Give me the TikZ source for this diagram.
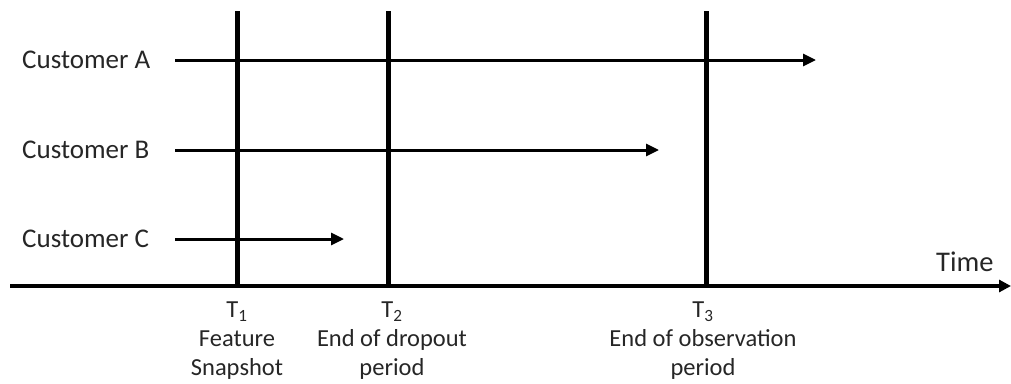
\documentclass[tikz,border=0pt]{standalone}
\usepackage{fontspec}
\setmainfont{Carlito}
\usetikzlibrary{arrows.meta}
\begin{document}
\begin{tikzpicture}[x=1pt,y=-1pt,
  lbl/.style={font=\fontsize{27}{30}\selectfont, text=black!85, inner sep=0pt},
  tlbl/.style={font=\fontsize{24.5}{29}\selectfont, text=black!85, inner sep=0pt, align=center, anchor=north},
  custarrow/.style={line width=3pt, -{Triangle[length=13pt,width=12pt]}},
  axisarrow/.style={line width=3.5pt, -{Triangle[length=12pt,width=12pt]}},
  vline/.style={line width=5pt}]
\useasboundingbox (0,0) rectangle (1011,383);
% axis
\coordinate (ax0) at (10,286);
\coordinate (ax1) at (1011,286);
\draw[axisarrow] (ax0) -- (ax1);
\node[lbl, font=\fontsize{28.5}{30}\selectfont, anchor=base west] (time) at (936,271) {Time};
% vertical lines
\coordinate (v1t) at (237,11); \coordinate (v1b) at (237,286);
\coordinate (v2t) at (388,11); \coordinate (v2b) at (388,286);
\coordinate (v3t) at (706,11); \coordinate (v3b) at (706,286);
\draw[vline] (v1t) -- (v1b);
\draw[vline] (v2t) -- (v2b);
\draw[vline] (v3t) -- (v3b);
% customers
\node[lbl, anchor=west] (ca) at (22,60) {Customer A};
\node[lbl, anchor=west] (cb) at (22,150) {Customer B};
\node[lbl, anchor=west] (cc) at (22,239) {Customer C};
\coordinate (a0) at (175,60); \coordinate (a1) at (816,60);
\coordinate (b0) at (175,150); \coordinate (b1) at (659,150);
\coordinate (c0) at (175,239); \coordinate (c1) at (344,239);
\draw[custarrow] (a0) -- (a1);
\draw[custarrow] (b0) -- (b1);
\draw[custarrow] (c0) -- (c1);
% T labels
\node[tlbl] (t1) at (237,302) {T\textsubscript{1}\\Feature\\Snapshot};
\node[tlbl] (t2) at (392,302) {T\textsubscript{2}\\End of dropout\\period};
\node[tlbl] (t3) at (703,302) {T\textsubscript{3}\\End of observation\\period};
\end{tikzpicture}
\end{document}
